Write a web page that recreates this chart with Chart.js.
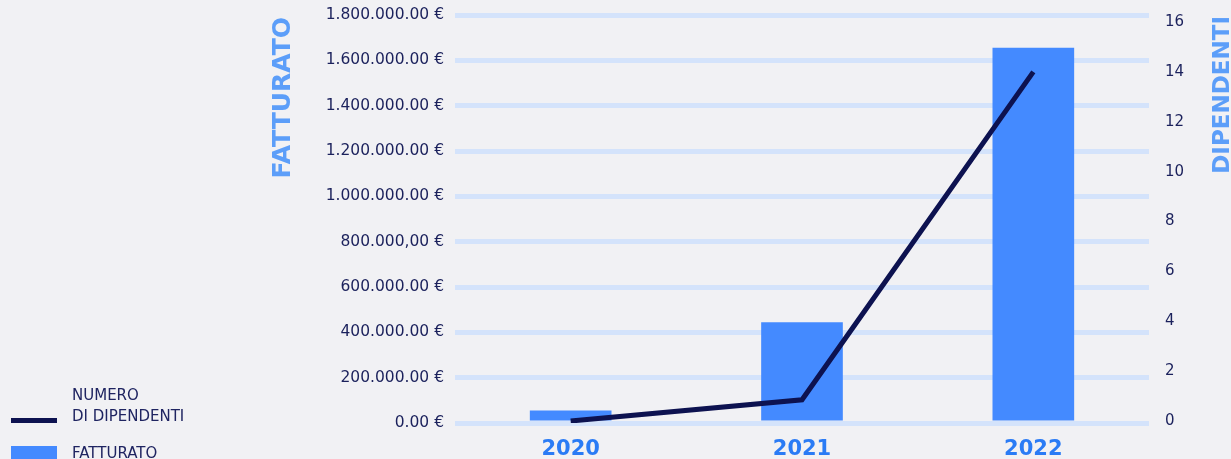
<!DOCTYPE html>
<html lang="it">
<head>
<meta charset="utf-8">
<title>Fatturato e dipendenti</title>
<script src="https://cdn.jsdelivr.net/npm/chart.js@4/dist/chart.umd.min.js"></script>
<style>
    html, body {
        margin: 0;
        padding: 0;
        background: #f1f1f4;
        overflow: hidden;
    }
    #wrap {
        position: relative;
        width: 1231px;
        height: 459px;
    }
    #legend {
        position: absolute;
        left: 0;
        top: 0;
        font-family: "DejaVu Sans", sans-serif;
        font-size: 15px;
        color: #1f2461;
    }
    .swatch-line {
        position: absolute;
        left: 11px;
        top: 418px;
        width: 46px;
        height: 5px;
        background: #0d1250;
    }
    .swatch-bar {
        position: absolute;
        left: 11px;
        top: 446px;
        width: 46px;
        height: 20px;
        background: #448aff;
    }
    .legend-text {
        position: absolute;
        left: 72px;
        line-height: 21px;
        white-space: nowrap;
    }
</style>
</head>
<body>
<div id="wrap">
    <canvas id="mainChart" width="1231" height="459"></canvas>
    <div id="legend">
        <div class="swatch-line"></div>
        <div class="legend-text" style="top:385px">NUMERO<br>DI DIPENDENTI</div>
        <div class="swatch-bar"></div>
        <div class="legend-text" style="top:443px">FATTURATO</div>
    </div>
</div>
<script>
// Data
const years = ['2020', '2021', '2022'];
const revenue = [55000, 445000, 1655000];      // fatturato in euro
const employees = [0, 0.85, 14];               // numero di dipendenti

// Left axis labels, from 0 up to 1.800.000
const revenueTickLabels = [
    '0.00 €',
    '200.000.00 €',
    '400.000.00 €',
    '600.000.00 €',
    '800.000,00 €',
    '1.000.000.00 €',
    '1.200.000.00 €',
    '1.400.000.00 €',
    '1.600.000.00 €',
    '1.800.000.00 €'
];

const NAVY = '#1b215c';
const LINE_NAVY = '#0d1250';
const BAR_BLUE = '#448aff';
const TITLE_BLUE = '#5c9ef9';
const YEAR_BLUE = '#2a7bf5';
const GRID_BLUE = '#d4e3fb';

/**
 * Vertical axis titles, both reading bottom-to-top and pinned to the top
 */
const axisTitles = {
    id: 'axisTitles',
    afterDraw(chart) {
        const ctx = chart.ctx;
        const drawTitle = (text, x, y, size) => {
            ctx.save();
            ctx.translate(x, y);
            ctx.rotate(-Math.PI / 2);
            ctx.font = `bold ${size}px "DejaVu Sans", sans-serif`;
            ctx.fillStyle = TITLE_BLUE;
            ctx.textAlign = 'right';
            ctx.textBaseline = 'alphabetic';
            ctx.fillText(text, 0, 0);
            ctx.restore();
        };
        drawTitle('FATTURATO', 289.5, 17, 25);
        drawTitle('DIPENDENTI', 1229, 16, 23);
    }
};

// fixed axis size, without the extra room Chart.js keeps for end labels
const fixWidth = (w) => (scale) => {
    scale.width = w;
    scale.paddingTop = 0;
    scale.paddingBottom = 0;
};

const ctx = document.getElementById('mainChart').getContext('2d');
const chart = new Chart(ctx, {
    data: {
        labels: years,
        datasets: [
            {
                type: 'line',
                label: 'Numero di dipendenti',
                data: employees,
                yAxisID: 'yEmp',
                borderColor: LINE_NAVY,
                borderWidth: 5,
                pointRadius: 0,
                tension: 0,
                fill: false,
                order: 0
            },
            {
                type: 'bar',
                label: 'Fatturato',
                data: revenue,
                yAxisID: 'yRev',
                backgroundColor: BAR_BLUE,
                barPercentage: 0.353,
                categoryPercentage: 1,
                order: 1
            }
        ]
    },
    options: {
        responsive: false,
        devicePixelRatio: 1,
        animation: false,
        layout: {
            padding: { top: 15, left: 0, right: 0, bottom: 0 }
        },
        plugins: {
            legend: { display: false },
            tooltip: { enabled: false }
        },
        scales: {
            x: {
                offset: true,
                grid: { display: false },
                border: { display: false },
                ticks: {
                    color: YEAR_BLUE,
                    padding: 6,
                    font: { family: '"DejaVu Sans", sans-serif', size: 21, weight: 'bold' }
                },
                afterFit: (scale) => {
                    scale.height = 36;
                    scale.paddingLeft = 0;
                    scale.paddingRight = 0;
                }
            },
            yRev: {
                position: 'left',
                min: 0,
                max: 1800000,
                grid: {
                    color: GRID_BLUE,
                    lineWidth: 5,
                    drawTicks: false
                },
                border: { display: false },
                ticks: {
                    stepSize: 200000,
                    color: NAVY,
                    padding: 11,
                    font: { family: '"DejaVu Sans", sans-serif', size: 15.5 },
                    callback: (value) => revenueTickLabels[Math.round(value / 200000)]
                },
                afterFit: fixWidth(455)
            },
            yEmp: {
                position: 'right',
                min: -0.08,
                max: 16.28,
                grid: { display: false, drawTicks: false },
                border: { display: false },
                ticks: {
                    stepSize: 2,
                    includeBounds: false,
                    color: NAVY,
                    padding: 16,
                    font: { family: '"DejaVu Sans", sans-serif', size: 15 }
                },
                afterFit: fixWidth(82)
            }
        }
    },
    plugins: [axisTitles]
});
</script>
</body>
</html>
